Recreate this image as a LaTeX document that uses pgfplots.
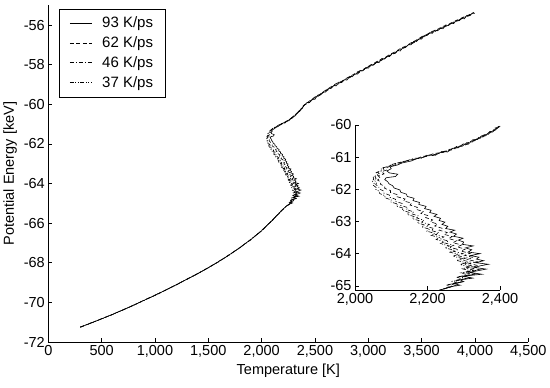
\documentclass[border=0pt]{standalone}
\usepackage{fontspec}
\setmainfont{Liberation Sans}
\usepackage{pgfplots}
\usepackage{pgfplotstable}
\pgfplotsset{compat=1.18}

% Series A: 93 K/ps (solid)
\pgfplotstableread[row sep=\\]{
T E \\
300 -71.25 \\ 400 -71.04 \\ 500 -70.83 \\ 600 -70.61 \\ 700 -70.38 \\ 800 -70.14 \\ 900 -69.89 \\ 1000 -69.64 \\
1100 -69.38 \\ 1200 -69.11 \\ 1300 -68.83 \\ 1400 -68.55 \\ 1500 -68.25 \\ 1600 -67.93 \\ 1700 -67.59 \\ 1800 -67.22 \\
1850 -67.02 \\ 1900 -66.82 \\ 1950 -66.60 \\ 2000 -66.38 \\ 2050 -66.12 \\ 2100 -65.86 \\ 2130 -65.68 \\ 2160 -65.52 \\
2185 -65.38 \\ 2210 -65.25 \\ 2235 -65.13 \\
2262 -65.03 \\ 2290 -64.98 \\ 2272 -64.93 \\ 2300 -64.87 \\ 2290 -64.81 \\ 2325 -64.76 \\ 2298 -64.70 \\ 2350 -64.64 \\
2315 -64.58 \\ 2330 -64.55 \\ 2362 -64.48 \\ 2330 -64.43 \\ 2345 -64.38 \\ 2368 -64.33 \\ 2332 -64.28 \\ 2355 -64.22 \\
2335 -64.17 \\ 2342 -64.11 \\ 2318 -64.06 \\ 2345 -64.00 \\ 2312 -63.95 \\ 2322 -63.88 \\ 2305 -63.82 \\ 2326 -63.76 \\
2296 -63.71 \\ 2300 -63.64 \\ 2285 -63.58 \\ 2298 -63.52 \\ 2272 -63.46 \\ 2280 -63.39 \\ 2262 -63.33 \\ 2275 -63.27 \\
2250 -63.22 \\ 2256 -63.15 \\ 2240 -63.09 \\ 2248 -63.02 \\ 2232 -62.97 \\ 2236 -62.90 \\ 2218 -62.84 \\ 2226 -62.78 \\
2206 -62.72 \\ 2210 -62.65 \\ 2192 -62.60 \\ 2196 -62.53 \\ 2176 -62.47 \\ 2178 -62.41 \\ 2160 -62.35 \\ 2163 -62.28 \\
2144 -62.22 \\ 2142 -62.15 \\ 2126 -62.09 \\ 2124 -62.02 \\ 2108 -61.96 \\ 2104 -61.89 \\ 2094 -61.83 \\ 2090 -61.76 \\
2082 -61.70 \\ 2086 -61.64 \\ 2112 -61.60 \\ 2118 -61.53 \\ 2095 -61.49 \\ 2088 -61.43 \\ 2100 -61.36 \\ 2097 -61.30 \\
2118 -61.24 \\ 2130 -61.18 \\ 2155 -61.12 \\ 2170 -61.05 \\
2190 -61.00 \\ 2205 -60.93 \\ 2222 -60.94 \\ 2240 -60.82 \\ 2255 -60.84 \\ 2270 -60.72 \\ 2285 -60.71 \\ 2298 -60.59 \\
2312 -60.60 \\ 2325 -60.46 \\ 2338 -60.45 \\ 2350 -60.33 \\ 2360 -60.34 \\ 2372 -60.20 \\ 2380 -60.22 \\ 2392 -60.08 \\
2385 -60.10 \\ 2400 -60.05 \\
2425 -59.91 \\ 2450 -59.91 \\ 2475 -59.75 \\ 2500 -59.75 \\ 2525 -59.54 \\ 2550 -59.54 \\ 2575 -59.38 \\ 2600 -59.39 \\
2625 -59.20 \\ 2650 -59.20 \\ 2675 -59.06 \\ 2700 -59.07 \\ 2725 -58.88 \\ 2750 -58.91 \\ 2775 -58.76 \\ 2800 -58.78 \\
2825 -58.59 \\ 2850 -58.61 \\ 2875 -58.47 \\ 2900 -58.48 \\ 2925 -58.29 \\ 2950 -58.31 \\ 2975 -58.16 \\ 3000 -58.18 \\
3025 -58.01 \\ 3050 -58.02 \\ 3075 -57.88 \\ 3100 -57.90 \\ 3125 -57.70 \\ 3150 -57.72 \\ 3175 -57.58 \\ 3200 -57.59 \\
3225 -57.42 \\ 3250 -57.44 \\ 3275 -57.29 \\ 3300 -57.31 \\ 3325 -57.12 \\ 3350 -57.13 \\ 3375 -56.99 \\ 3400 -57.00 \\
3425 -56.83 \\ 3450 -56.84 \\ 3475 -56.70 \\ 3500 -56.71 \\ 3525 -56.52 \\ 3550 -56.53 \\ 3575 -56.39 \\ 3600 -56.42 \\
3625 -56.26 \\ 3650 -56.29 \\ 3675 -56.16 \\ 3700 -56.19 \\ 3725 -56.00 \\ 3750 -56.03 \\ 3775 -55.90 \\ 3800 -55.93 \\
3825 -55.76 \\ 3850 -55.79 \\ 3875 -55.66 \\ 3900 -55.69 \\ 3925 -55.51 \\ 3950 -55.53 \\ 3975 -55.40 \\ 4000 -55.41 \\
}\tabA

% Series B: 62 K/ps (dashed)
\pgfplotstableread[row sep=\\]{
T E \\
300 -71.24 \\ 400 -71.05 \\ 500 -70.82 \\ 600 -70.62 \\ 700 -70.37 \\ 800 -70.15 \\ 900 -69.88 \\ 1000 -69.65 \\
1100 -69.37 \\ 1200 -69.12 \\ 1300 -68.82 \\ 1400 -68.56 \\ 1500 -68.24 \\ 1600 -67.94 \\ 1700 -67.58 \\ 1800 -67.23 \\
1850 -67.01 \\ 1900 -66.84 \\ 1950 -66.59 \\ 2000 -66.40 \\ 2050 -66.10 \\ 2100 -65.88 \\ 2130 -65.66 \\ 2160 -65.54 \\
2185 -65.36 \\ 2210 -65.27 \\ 2232 -65.14 \\
2255 -65.06 \\ 2278 -65.00 \\ 2266 -64.94 \\ 2295 -64.88 \\ 2282 -64.82 \\ 2318 -64.76 \\ 2296 -64.70 \\ 2336 -64.63 \\
2310 -64.57 \\ 2344 -64.50 \\ 2318 -64.44 \\ 2340 -64.37 \\ 2315 -64.31 \\ 2336 -64.25 \\ 2310 -64.18 \\ 2326 -64.12 \\
2302 -64.05 \\ 2318 -63.99 \\ 2292 -63.92 \\ 2304 -63.86 \\ 2282 -63.79 \\ 2294 -63.73 \\ 2270 -63.66 \\ 2280 -63.60 \\
2258 -63.53 \\ 2268 -63.47 \\ 2246 -63.40 \\ 2254 -63.34 \\ 2232 -63.27 \\ 2240 -63.21 \\ 2220 -63.14 \\ 2228 -63.08 \\
2208 -63.01 \\ 2214 -62.95 \\ 2195 -62.88 \\ 2202 -62.82 \\ 2182 -62.75 \\ 2188 -62.69 \\ 2168 -62.62 \\ 2172 -62.56 \\
2152 -62.49 \\ 2156 -62.43 \\ 2134 -62.36 \\ 2138 -62.30 \\ 2116 -62.23 \\ 2118 -62.17 \\ 2098 -62.10 \\ 2098 -62.04 \\
2082 -61.97 \\ 2082 -61.91 \\ 2070 -61.84 \\ 2072 -61.78 \\ 2062 -61.71 \\ 2070 -61.65 \\ 2064 -61.58 \\ 2080 -61.52 \\
2074 -61.45 \\ 2090 -61.39 \\ 2088 -61.32 \\ 2105 -61.26 \\ 2120 -61.20 \\ 2134 -61.15 \\
2150 -61.09 \\ 2168 -61.06 \\ 2186 -60.97 \\ 2200 -60.97 \\ 2218 -60.88 \\ 2236 -60.88 \\
2252 -60.79 \\ 2266 -60.78 \\ 2280 -60.67 \\ 2296 -60.66 \\ 2308 -60.55 \\ 2322 -60.54 \\ 2334 -60.42 \\ 2346 -60.41 \\
2356 -60.30 \\ 2368 -60.29 \\ 2376 -60.17 \\ 2388 -60.16 \\ 2395 -60.05 \\ 2403 -60.03 \\
2450 -59.83 \\ 2500 -59.63 \\ 2550 -59.48 \\ 2600 -59.29 \\ 2650 -59.12 \\ 2700 -58.95 \\ 2750 -58.84 \\ 2800 -58.67 \\
2850 -58.53 \\ 2900 -58.36 \\ 2950 -58.25 \\ 3000 -58.08 \\ 3050 -57.94 \\ 3100 -57.78 \\ 3150 -57.66 \\ 3200 -57.49 \\
3250 -57.36 \\ 3300 -57.19 \\ 3350 -57.07 \\ 3400 -56.90 \\ 3450 -56.76 \\ 3500 -56.59 \\ 3550 -56.47 \\ 3600 -56.32 \\
3650 -56.21 \\ 3700 -56.07 \\ 3750 -55.97 \\ 3800 -55.83 \\ 3850 -55.71 \\ 3900 -55.58 \\ 3950 -55.47 \\ 3990 -55.36 \\
}\tabB

% Series C: 46 K/ps (dash-dot)
\pgfplotstableread[row sep=\\]{
T E \\
300 -71.26 \\ 400 -71.03 \\ 500 -70.84 \\ 600 -70.60 \\ 700 -70.39 \\ 800 -70.13 \\ 900 -69.90 \\ 1000 -69.63 \\
1100 -69.39 \\ 1200 -69.10 \\ 1300 -68.84 \\ 1400 -68.54 \\ 1500 -68.26 \\ 1600 -67.92 \\ 1700 -67.60 \\ 1800 -67.21 \\
1850 -67.03 \\ 1900 -66.81 \\ 1950 -66.61 \\ 2000 -66.36 \\ 2050 -66.13 \\ 2100 -65.84 \\ 2130 -65.70 \\ 2160 -65.50 \\
2185 -65.40 \\ 2210 -65.23 \\ 2230 -65.15 \\
2250 -65.08 \\ 2268 -65.02 \\ 2258 -64.96 \\ 2288 -64.90 \\ 2275 -64.84 \\ 2308 -64.78 \\ 2288 -64.71 \\ 2326 -64.65 \\
2300 -64.58 \\ 2330 -64.52 \\ 2305 -64.45 \\ 2326 -64.39 \\ 2300 -64.32 \\ 2318 -64.26 \\ 2292 -64.19 \\ 2308 -64.13 \\
2282 -64.06 \\ 2298 -64.00 \\ 2272 -63.93 \\ 2285 -63.87 \\ 2260 -63.80 \\ 2272 -63.74 \\ 2248 -63.67 \\ 2258 -63.61 \\
2236 -63.54 \\ 2245 -63.48 \\ 2222 -63.41 \\ 2232 -63.35 \\ 2210 -63.28 \\ 2218 -63.22 \\ 2196 -63.15 \\ 2205 -63.09 \\
2184 -63.02 \\ 2190 -62.96 \\ 2170 -62.89 \\ 2176 -62.83 \\ 2156 -62.76 \\ 2162 -62.70 \\ 2142 -62.63 \\ 2146 -62.57 \\
2126 -62.50 \\ 2130 -62.44 \\ 2110 -62.37 \\ 2112 -62.31 \\ 2094 -62.24 \\ 2095 -62.18 \\ 2078 -62.11 \\ 2078 -62.05 \\
2066 -61.98 \\ 2066 -61.92 \\ 2057 -61.85 \\ 2060 -61.79 \\ 2053 -61.72 \\ 2058 -61.66 \\ 2055 -61.60 \\ 2068 -61.53 \\
2062 -61.47 \\ 2080 -61.40 \\ 2078 -61.33 \\ 2096 -61.27 \\ 2110 -61.20 \\ 2128 -61.15 \\
2146 -61.10 \\ 2165 -61.03 \\ 2182 -61.04 \\ 2198 -60.94 \\ 2215 -60.95 \\ 2232 -60.85 \\
2248 -60.85 \\ 2262 -60.75 \\ 2278 -60.74 \\ 2292 -60.63 \\ 2305 -60.62 \\ 2318 -60.51 \\ 2330 -60.49 \\ 2342 -60.38 \\
2354 -60.37 \\ 2365 -60.26 \\ 2374 -60.24 \\ 2385 -60.13 \\ 2392 -60.11 \\ 2400 -60.03 \\
2425 -59.98 \\ 2475 -59.76 \\ 2525 -59.62 \\ 2575 -59.40 \\ 2625 -59.27 \\ 2675 -59.07 \\ 2725 -58.96 \\ 2775 -58.77 \\
2825 -58.66 \\ 2875 -58.48 \\ 2925 -58.37 \\ 2975 -58.18 \\ 3025 -58.08 \\ 3075 -57.89 \\ 3125 -57.78 \\ 3175 -57.60 \\
3225 -57.49 \\ 3275 -57.30 \\ 3325 -57.20 \\ 3375 -57.01 \\ 3425 -56.90 \\ 3475 -56.71 \\ 3525 -56.60 \\ 3575 -56.41 \\
3625 -56.33 \\ 3675 -56.17 \\ 3725 -56.08 \\ 3775 -55.92 \\ 3825 -55.83 \\ 3875 -55.67 \\ 3925 -55.58 \\ 3985 -55.40 \\
}\tabC

% Series D: 37 K/ps (dash-dot-dot)
\pgfplotstableread[row sep=\\]{
T E \\
300 -71.25 \\ 400 -71.05 \\ 500 -70.83 \\ 600 -70.62 \\ 700 -70.38 \\ 800 -70.15 \\ 900 -69.89 \\ 1000 -69.65 \\
1100 -69.38 \\ 1200 -69.12 \\ 1300 -68.83 \\ 1400 -68.56 \\ 1500 -68.25 \\ 1600 -67.94 \\ 1700 -67.59 \\ 1800 -67.23 \\
1850 -67.02 \\ 1900 -66.83 \\ 1950 -66.60 \\ 2000 -66.39 \\ 2050 -66.11 \\ 2100 -65.87 \\ 2130 -65.67 \\ 2160 -65.53 \\
2185 -65.37 \\ 2210 -65.26 \\ 2228 -65.16 \\
2245 -65.10 \\ 2262 -65.04 \\ 2252 -64.98 \\ 2282 -64.92 \\ 2268 -64.86 \\ 2300 -64.80 \\ 2280 -64.73 \\ 2316 -64.67 \\
2292 -64.60 \\ 2320 -64.54 \\ 2296 -64.47 \\ 2315 -64.41 \\ 2290 -64.34 \\ 2306 -64.28 \\ 2280 -64.21 \\ 2296 -64.15 \\
2270 -64.08 \\ 2285 -64.02 \\ 2260 -63.95 \\ 2272 -63.89 \\ 2248 -63.82 \\ 2260 -63.76 \\ 2236 -63.69 \\ 2246 -63.63 \\
2224 -63.56 \\ 2233 -63.50 \\ 2210 -63.43 \\ 2220 -63.37 \\ 2198 -63.30 \\ 2206 -63.24 \\ 2184 -63.17 \\ 2192 -63.11 \\
2172 -63.04 \\ 2178 -62.98 \\ 2158 -62.91 \\ 2164 -62.85 \\ 2144 -62.78 \\ 2150 -62.72 \\ 2130 -62.65 \\ 2134 -62.59 \\
2114 -62.52 \\ 2118 -62.46 \\ 2098 -62.39 \\ 2100 -62.33 \\ 2082 -62.26 \\ 2083 -62.20 \\ 2068 -62.13 \\ 2068 -62.07 \\
2057 -62.00 \\ 2058 -61.94 \\ 2050 -61.87 \\ 2053 -61.81 \\ 2047 -61.74 \\ 2052 -61.68 \\ 2050 -61.62 \\ 2062 -61.55 \\
2058 -61.48 \\ 2074 -61.42 \\ 2072 -61.35 \\ 2090 -61.29 \\ 2104 -61.22 \\ 2122 -61.17 \\
2140 -61.12 \\ 2160 -61.07 \\ 2178 -61.03 \\ 2194 -60.98 \\ 2212 -60.94 \\ 2228 -60.89 \\
2244 -60.84 \\ 2258 -60.79 \\ 2274 -60.73 \\ 2288 -60.67 \\ 2302 -60.61 \\ 2315 -60.55 \\ 2327 -60.49 \\ 2340 -60.42 \\
2352 -60.36 \\ 2362 -60.30 \\ 2372 -60.24 \\ 2382 -60.17 \\ 2390 -60.11 \\ 2398 -60.05 \\
2450 -59.89 \\ 2500 -59.66 \\ 2550 -59.53 \\ 2600 -59.31 \\ 2650 -59.18 \\ 2700 -58.98 \\ 2750 -58.89 \\ 2800 -58.69 \\
2850 -58.59 \\ 2900 -58.39 \\ 2950 -58.30 \\ 3000 -58.10 \\ 3050 -58.00 \\ 3100 -57.81 \\ 3150 -57.71 \\ 3200 -57.51 \\
3250 -57.42 \\ 3300 -57.22 \\ 3350 -57.12 \\ 3400 -56.92 \\ 3450 -56.82 \\ 3500 -56.62 \\ 3550 -56.52 \\ 3600 -56.34 \\
3650 -56.27 \\ 3700 -56.10 \\ 3750 -56.02 \\ 3800 -55.85 \\ 3850 -55.77 \\ 3900 -55.60 \\ 3950 -55.52 \\ 3980 -55.42 \\
}\tabD

\pgfplotsset{
  myaxis/.style={
    scale only axis,
    axis lines=left,
    axis line style={-, black, line width=0.6pt},
    tick style={black, line width=0.6pt},
    tick align=inside,
    major tick length=3.5pt,
    scaled ticks=false,
    /pgf/number format/assume math mode=true,
    /pgf/number format/1000 sep={,},
    tick label style={font=\fontsize{14.5}{17}\selectfont},
    label style={font=\fontsize{14.5}{17}\selectfont},
  },
  sA/.style={black, line width=0.6pt, solid},
  sB/.style={black, line width=0.6pt, dash pattern=on 4pt off 2.5pt},
  sC/.style={black, line width=0.6pt, dash pattern=on 4pt off 2pt on 1pt off 2pt},
  sD/.style={black, line width=0.6pt, dash pattern=on 4pt off 1.5pt on 1pt off 1.5pt on 1pt off 1.5pt},
}

\begin{document}
\begin{tikzpicture}
\useasboundingbox (-48.3pt,-46pt) rectangle (501.7pt,342pt);
\begin{axis}[myaxis,
  at={(0pt,0pt)}, anchor=south west,
  width=480pt, height=336.8pt,
  xmin=0, xmax=4500, ymin=-72, ymax=-55,
  xtick={0,500,...,4500},
  ytick={-72,-70,...,-56},
  xlabel={Temperature [K]},
  ylabel={Potential Energy [keV]},
  legend cell align=left,
  legend style={at={(0.023,0.99)}, anchor=north west, draw=black, line width=0.6pt,
    font=\fontsize{15}{17}\selectfont, inner xsep=10pt, inner ysep=6pt,
    row sep=3.5pt},
  legend image code/.code={\draw[#1] (0pt,0pt) -- (22pt,0pt); \path (30pt,0pt);},
]
\addplot[sA] table[x=T,y=E] {\tabA};
\addlegendentry{93 K/ps}
\addplot[sB] table[x=T,y=E] {\tabB};
\addlegendentry{62 K/ps}
\addplot[sC] table[x=T,y=E] {\tabC};
\addlegendentry{46 K/ps}
\addplot[sD] table[x=T,y=E] {\tabD};
\addlegendentry{37 K/ps}
\end{axis}
\begin{axis}[myaxis,
  at={(306.7pt,52pt)}, anchor=south west,
  width=145pt, height=165pt,
  xmin=2000, xmax=2400, ymin=-65.13, ymax=-60,
  xtick={2000,2200,2400},
  ytick={-65,-64,...,-60},
]
\addplot[sA] table[x=T,y=E] {\tabA};
\addplot[sB] table[x=T,y=E] {\tabB};
\addplot[sC] table[x=T,y=E] {\tabC};
\addplot[sD] table[x=T,y=E] {\tabD};
\end{axis}
\end{tikzpicture}
\end{document}
